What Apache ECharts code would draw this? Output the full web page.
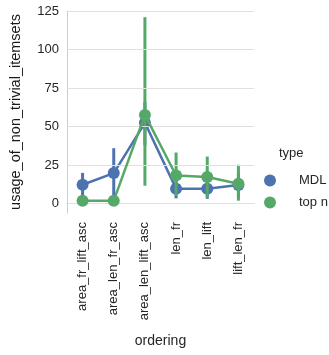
<!DOCTYPE html>
<html><head><meta charset="utf-8">
<script src="https://cdn.jsdelivr.net/npm/echarts@6/dist/echarts.min.js"></script>
<style>html,body{margin:0;padding:0;background:#fff}#c{width:329px;height:355px}</style>
</head><body><div id="c"></div>
<script>
const categories = ['area_fr_lift_asc','area_len_fr_asc','area_len_lift_asc','len_fr','len_lift','lift_len_fr'];
const mdlValues = [12.3, 19.9, 52.5, 9.8, 9.8, 12.2];
const mdlLow = [3, 2, 38, 3.5, 3.2, 4];
const mdlHigh = [20, 36, 66, 15, 15, 20];
const topnValues = [2.0, 2.0, 57.6, 18.3, 17.3, 13.0];
const topnLow = [1.5, 1.5, 11.7, 5, 4, 2];
const topnHigh = [2.5, 2.5, 121, 33.2, 30.6, 25.3];
const yTicks = [0, 25, 50, 75, 100, 125];

const BLUE = '#4C72B0', GREEN = '#55A868';
const FONT = 'Liberation Sans, Arial, sans-serif';

function errSeries(name, low, high, color, z) {
  return {
    name: name, type: 'custom', z: z, silent: true, color: color,
    data: categories.map((c, i) => [i, low[i], high[i]]),
    renderItem: function (params, api) {
      const p1 = api.coord([api.value(0), api.value(1)]);
      const p2 = api.coord([api.value(0), api.value(2)]);
      return { type: 'line', shape: { x1: p1[0], y1: p1[1], x2: p2[0], y2: p2[1] },
        style: { stroke: color, lineWidth: 3 } };
    }
  };
}

const chart = echarts.init(document.getElementById('c'), null, { renderer: 'canvas' });
chart.setOption({
  animation: false,
  grid: { left: 64, right: 75, top: 11, bottom: 142, containLabel: false },
  xAxis: {
    type: 'category', data: categories, boundaryGap: true,
    name: 'ordering', nameLocation: 'middle', nameGap: 121,
    nameTextStyle: { fontFamily: FONT, fontSize: 14, color: '#262626' },
    axisLine: { lineStyle: { color: '#cccccc', width: 1 } },
    axisTick: { show: false },
    axisLabel: { rotate: 90, fontFamily: FONT, fontSize: 13, color: '#262626', margin: 9, interval: 0 },
    splitLine: { show: false }
  },
  yAxis: {
    type: 'value', min: -6, max: 125,
    name: 'usage_of_non_trivial_itemsets', nameLocation: 'middle', nameGap: 44,
    nameTextStyle: { fontFamily: FONT, fontSize: 14.5, color: '#1a1a1a' },
    axisLine: { show: true, lineStyle: { color: '#cccccc', width: 1 } },
    axisTick: { show: false, customValues: yTicks },
    axisLabel: { customValues: yTicks, fontFamily: FONT, fontSize: 13, color: '#262626', margin: 8 },
    splitLine: { show: false }
  },
  legend: {
    orient: 'vertical', left: 259, top: 169, itemGap: 9,
    icon: 'circle', itemWidth: 12, itemHeight: 12,
    data: [{ name: 'MDL', itemStyle: { color: BLUE } }, { name: 'top n', itemStyle: { color: GREEN } }],
    textStyle: { fontFamily: FONT, fontSize: 13, color: '#262626', padding: [0, 0, 0, 18] }
  },
  graphic: [{ type: 'text', left: 279, top: 147, style: { text: 'type', font: '13px ' + FONT, fill: '#262626' } }],
  series: [
    { name: 'grid', type: 'line', data: [], silent: true,
      markLine: { silent: true, symbol: 'none', label: { show: false },
        lineStyle: { color: '#e0e0e0', width: 1, type: 'solid' },
        data: yTicks.map(v => ({ yAxis: v })) } },
    errSeries('MDL ci', mdlLow, mdlHigh, BLUE, 2),
    { name: 'MDL', type: 'line', data: mdlValues, z: 3, symbol: 'circle', symbolSize: 12, color: BLUE,
      itemStyle: { color: BLUE }, lineStyle: { color: BLUE, width: 2.5 } },
    errSeries('top n ci', topnLow, topnHigh, GREEN, 4),
    { name: 'top n', type: 'line', data: topnValues, z: 5, symbol: 'circle', symbolSize: 12, color: GREEN,
      itemStyle: { color: GREEN }, lineStyle: { color: GREEN, width: 2.5 } }
  ]
});
</script></body></html>
